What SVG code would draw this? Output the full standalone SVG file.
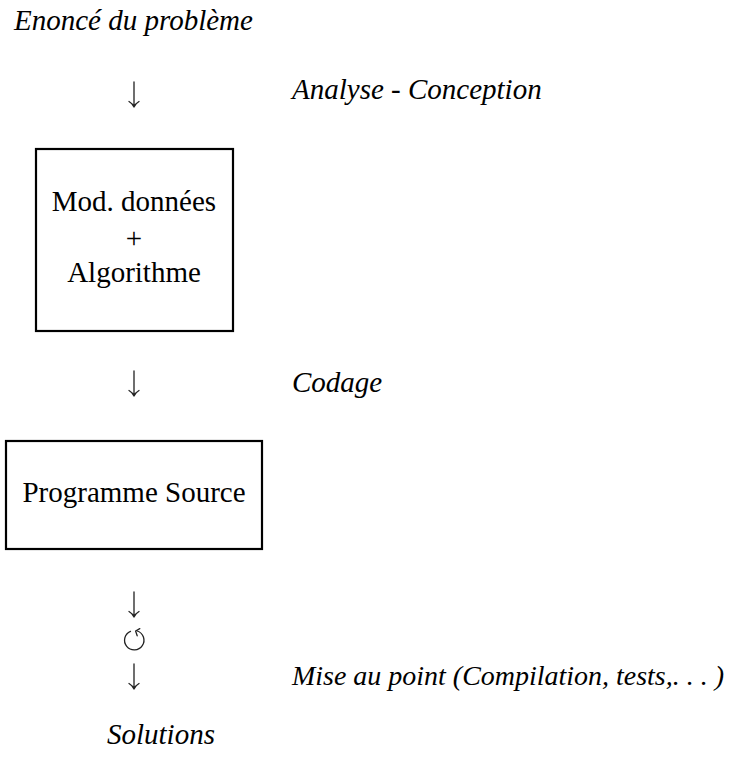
<svg xmlns="http://www.w3.org/2000/svg" width="731" height="758" viewBox="0 0 731 758">
<style>
text{font-family:"Liberation Serif","Times New Roman",serif;font-size:29px;fill:#000}
.it{font-style:italic}
.box{fill:none;stroke:#000;stroke-width:2.2}
.c{text-anchor:middle}
.arr{fill:none;stroke:#222;stroke-width:1.3;stroke-linecap:round;stroke-linejoin:round}
</style>
<defs>
<path id="down" class="arr" d="M0,0 V25 M-5,19.5 Q-1.5,21.5 0,25 Q1.5,21.5 5,19.5"/>
</defs>
<rect width="731" height="758" fill="#fff"/>
<text class="it" x="14" y="30">Enoncé du problème</text>
<g id="connectors">
<use href="#down" x="134" y="82"/>
<use href="#down" x="134" y="371"/>
<use href="#down" x="134" y="592"/>
<path class="arr" d="M130.5,631.3 A9.7,9.7 0 1 0 137.2,631"/>
<path class="arr" d="M139.8,628.6 L135.6,631 L137.2,635.8"/>
<use href="#down" x="134" y="664"/>
</g>
<text class="it" x="292" y="99">Analyse - Conception</text>
<g id="node-modele">
<rect class="box" x="36" y="149" width="197" height="182"/>
<text class="c" x="134" y="211">Mod. données</text>
<text class="c" x="134" y="248">+</text>
<text class="c" x="134" y="282">Algorithme</text>
</g>
<text class="it" x="292" y="392">Codage</text>
<g id="node-source">
<rect class="box" x="6" y="441" width="256" height="108"/>
<text class="c" x="134" y="502">Programme Source</text>
</g>
<text class="it" x="292" y="685" style="font-size:27.6px" textLength="432" lengthAdjust="spacingAndGlyphs">Mise au point (Compilation, tests,. . . )</text>
<text class="it" x="107" y="744">Solutions</text>
</svg>
